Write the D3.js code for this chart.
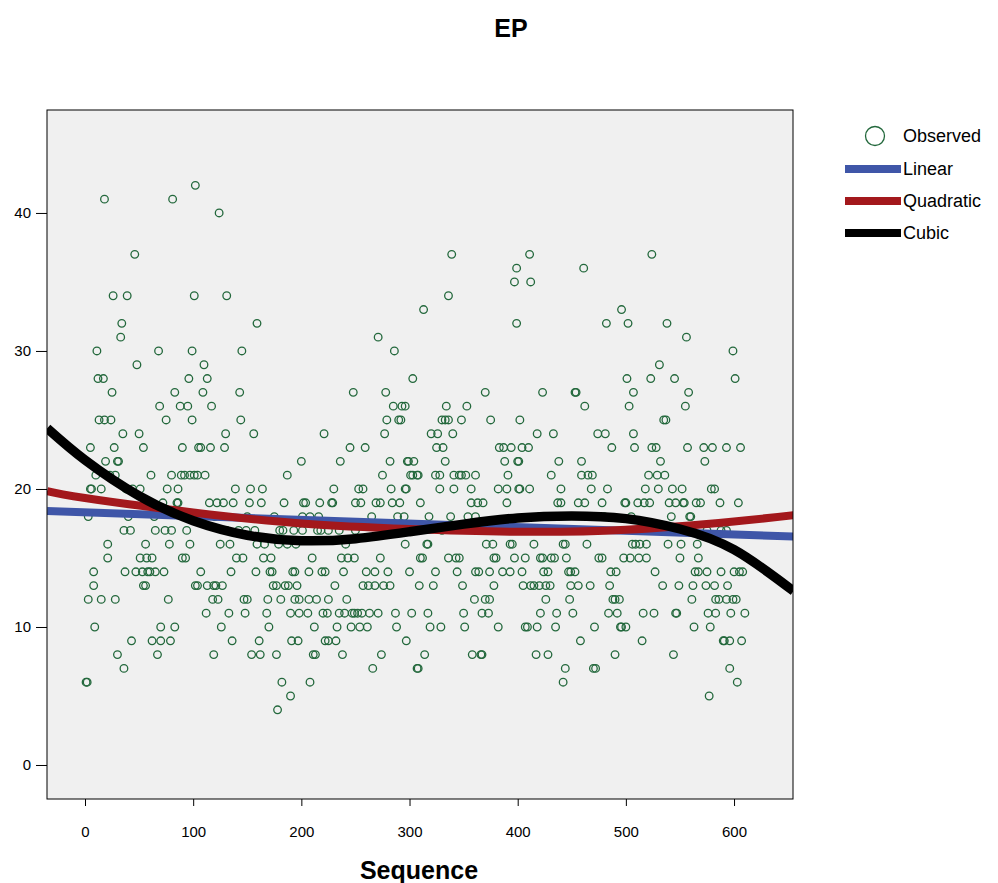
<!DOCTYPE html>
<html><head><meta charset="utf-8">
<script src="https://cdn.jsdelivr.net/npm/d3@7"></script>
<style>body{margin:0;background:#fff;}svg{display:block;font-family:"Liberation Sans",Arial,sans-serif;}</style>
</head><body>
<svg id="chart" width="998" height="883"></svg>
<script>
// Observed points, grouped by value (value -> sequence numbers)
const obsByValue = [
  [42,[102]],
  [41,[18,81]],
  [40,[124]],
  [37,[46,339,411,524]],
  [36,[399,461]],
  [35,[397,412]],
  [34,[26,39,101,131,336]],
  [33,[313,496]],
  [32,[34,159,399,482,502,538]],
  [31,[33,271,556]],
  [30,[11,68,99,145,286,599]],
  [29,[48,110,531]],
  [28,[12,17,96,113,303,501,523,545,601]],
  [27,[25,83,109,143,248,278,370,423,453,454,507,558]],
  [26,[69,88,95,117,285,293,296,334,353,462,503,555]],
  [25,[13,18,24,75,99,144,279,290,292,330,333,336,348,375,402,535,537]],
  [24,[35,50,130,156,221,277,320,326,340,418,433,474,481,507]],
  [23,[5,27,54,90,105,107,116,129,245,259,325,331,383,387,394,404,410,487,508,524,528,557,572,580,593,606]],
  [22,[19,30,31,200,236,282,298,299,304,333,388,400,401,438,459,532,573]],
  [21,[10,23,28,61,80,89,92,97,101,104,111,187,275,301,303,307,308,324,328,341,346,348,352,361,391,431,459,465,469,521,529,536]],
  [20,[5,6,15,38,44,51,76,86,139,153,164,230,253,257,283,296,297,328,341,357,382,390,401,402,411,440,468,483,518,530,543,552,579,582]],
  [19,[72,85,86,115,122,128,137,152,163,184,202,204,217,228,229,250,255,269,273,284,291,310,357,363,368,390,437,440,456,462,478,499,500,511,517,522,540,546,553,554,565,569,587,604]],
  [18,[3,40,64,120,150,175,201,208,216,265,289,295,318,338,354,361,420,470,480,505,542,559,560]],
  [17,[36,42,65,74,80,94,131,142,149,157,180,183,193,201,215,218,225,235,250,330,440,460,575,588,593]],
  [16,[21,56,78,97,125,134,159,166,179,187,195,241,296,316,317,371,377,393,395,415,442,444,464,506,509,513,519,539,551,566]],
  [15,[21,51,57,62,90,93,140,146,165,172,210,237,243,249,273,310,312,336,343,346,378,380,397,407,421,423,431,434,445,475,478,498,504,512,519,550,567]],
  [14,[8,37,47,53,58,60,65,73,107,135,158,171,173,192,194,207,219,222,239,260,268,280,300,324,344,361,364,374,386,393,404,424,428,447,449,453,486,491,527,564,567,575,588,600,605,608]],
  [13,[8,54,56,102,104,113,119,121,127,174,177,185,188,196,231,257,262,268,276,282,309,322,349,378,405,412,415,420,426,430,449,456,467,485,534,549,562,574,582,594]],
  [12,[3,15,28,77,118,123,147,150,169,181,194,198,207,214,225,242,360,370,374,426,448,488,490,494,561,583,586,593,599,602]],
  [11,[112,133,148,168,190,198,206,220,224,235,240,247,249,252,256,263,271,287,302,317,350,367,373,421,436,451,484,492,516,526,546,547,576,583,597,610]],
  [10,[9,70,83,126,170,212,233,246,254,261,288,319,329,351,382,407,409,418,435,471,495,496,500,563,578]],
  [9,[43,62,70,79,136,161,191,197,222,225,232,297,458,515,590,591,596,607]],
  [8,[30,67,119,154,162,177,211,213,238,274,314,358,366,367,417,428,490,544]],
  [7,[36,266,307,308,444,470,472,596]],
  [6,[1,2,182,208,442,603]],
  [5,[190,577]],
  [4,[178]]
];
// Fitted curves (sequence, value)
const linearFit = [[-35,18.4],[655,16.55]];
const quadraticFit = [[-35,19.85],[0,19.35],[100,18.3],[200,17.5],[300,17.1],[400,16.9],[500,17.05],[600,17.65],[655,18.1]];
const cubicFit = [[-35,24.4],[0,22.1],[50,19.5],[100,17.7],[150,16.65],[200,16.25],[250,16.4],[300,16.9],[350,17.45],[400,17.9],[450,18.05],[500,17.85],[550,17.1],[600,15.6],[655,12.6]];
const xTicks = [0,100,200,300,400,500,600];
const yTicks = [0,10,20,30,40];
const legendItems = ["Observed","Linear","Quadratic","Cubic"];

const svg = d3.select("#chart");
const L=47,R=793,T=110,B=799;
const x = d3.scaleLinear().domain([-35.13,654.5]).range([L,R]);
const y = d3.scaleLinear().domain([-2.464,47.46]).range([B,T]);
const green="#23683c", blue="#3f56a8", red="#a3181c", black="#000";

svg.append("rect").attr("x",L).attr("y",T).attr("width",R-L).attr("height",B-T).attr("fill","#f0f0f0");

svg.append("clipPath").attr("id","clip").append("rect").attr("x",L).attr("y",T).attr("width",R-L).attr("height",B-T);

const points = [];
obsByValue.forEach(([v,seqs])=>seqs.forEach(s=>points.push([s,v])));
svg.append("g").selectAll("circle").data(points).join("circle")
  .attr("cx",d=>x(d[0])).attr("cy",d=>y(d[1])).attr("r",3.8)
  .attr("fill","none").attr("stroke",green).attr("stroke-width",1.3);

const g = svg.append("g").attr("clip-path","url(#clip)");
const line = d3.line().x(d=>x(d[0])).y(d=>y(d[1])).curve(d3.curveNatural);
g.append("path").attr("d",line(linearFit)).attr("fill","none").attr("stroke",blue).attr("stroke-width",8);
g.append("path").attr("d",line(quadraticFit)).attr("fill","none").attr("stroke",red).attr("stroke-width",8);
g.append("path").attr("d",line(cubicFit)).attr("fill","none").attr("stroke",black).attr("stroke-width",9.5);

svg.append("rect").attr("x",L).attr("y",T).attr("width",R-L).attr("height",B-T).attr("fill","none").attr("stroke","#000").attr("stroke-width",1);

const xa = svg.append("g").attr("transform",`translate(0,${B})`)
  .call(d3.axisBottom(x).tickValues(xTicks).tickSize(7).tickPadding(20).tickSizeOuter(0));
xa.select(".domain").remove();
xa.selectAll("text").attr("font-size",15).attr("fill","#000").attr("font-family","Liberation Sans, Arial, sans-serif");
xa.selectAll("line").attr("stroke","#000");

const ya = svg.append("g").attr("transform",`translate(${L},0)`)
  .call(d3.axisLeft(y).tickValues(yTicks).tickSize(11).tickPadding(5).tickSizeOuter(0));
ya.select(".domain").remove();
ya.selectAll("text").attr("font-size",15).attr("fill","#000").attr("font-family","Liberation Sans, Arial, sans-serif");
ya.selectAll("line").attr("stroke","#000");

svg.append("text").attr("x",511).attr("y",37).attr("text-anchor","middle")
  .attr("font-size",25).attr("font-weight","bold").text("EP");
svg.append("text").attr("x",419).attr("y",879).attr("text-anchor","middle")
  .attr("font-size",25).attr("font-weight","bold").text("Sequence");

const lg = svg.append("g");
const ly = [136,169,201,233];
lg.append("circle").attr("cx",875).attr("cy",ly[0]).attr("r",9.5).attr("fill","none").attr("stroke",green).attr("stroke-width",1.3);
[blue,red,black].forEach((c,i)=>{
  lg.append("line").attr("x1",845).attr("x2",901).attr("y1",ly[i+1]).attr("y2",ly[i+1]).attr("stroke",c).attr("stroke-width",8);
});
legendItems.forEach((t,i)=>{
  lg.append("text").attr("x",903).attr("y",ly[i]).attr("dy","0.35em").attr("font-size",18).text(t);
});
</script>
</body></html>
